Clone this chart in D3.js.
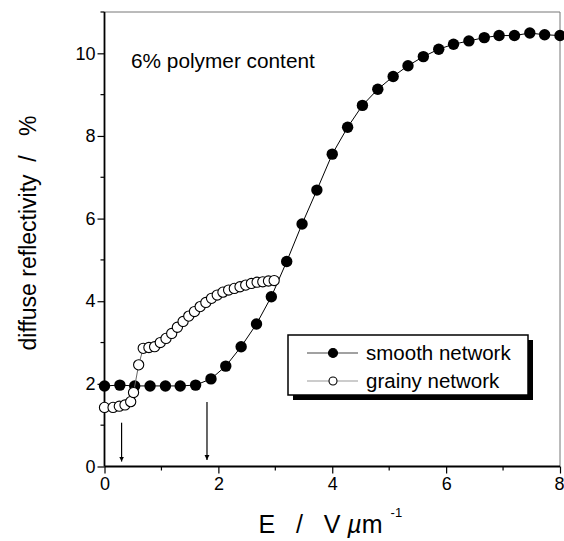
<!DOCTYPE html>
<html>
<head>
<meta charset="utf-8">
<script src="https://cdn.jsdelivr.net/npm/d3@7"></script>
<style>
  body { margin: 0; background: #fff; }
  svg { display: block; font-family: "Liberation Sans", Arial, sans-serif; }
</style>
</head>
<body>
<div id="chart"></div>
<script>
'use strict';

let width = 564;
let height = 541;
let margin = { top: 12, bottom: 74.5, left: 104.5, right: 4 };

// smooth network (filled circles)
const smoothE = [0, 0.27, 0.53, 0.8, 1.07, 1.33, 1.6, 1.87, 2.13, 2.4, 2.67, 2.93, 3.2, 3.47, 3.73, 4.0,
    4.27, 4.53, 4.8, 5.07, 5.33, 5.6, 5.87, 6.13, 6.4, 6.67, 6.93, 7.2, 7.47, 7.73, 8.0];
const smoothR = [1.95, 1.97, 1.95, 1.95, 1.95, 1.95, 1.97, 2.12, 2.43, 2.9, 3.45, 4.11, 4.96, 5.87, 6.69, 7.56,
    8.21, 8.74, 9.13, 9.44, 9.7, 9.92, 10.1, 10.22, 10.3, 10.38, 10.43, 10.43, 10.49, 10.45, 10.43];

// grainy network (open circles)
const grainyE = [0, 0.15, 0.26, 0.36, 0.46, 0.51, 0.6, 0.68, 0.78, 0.88, 0.98, 1.08, 1.18, 1.28, 1.38, 1.48,
    1.58, 1.68, 1.78, 1.88, 1.98, 2.08, 2.18, 2.28, 2.38, 2.48, 2.58, 2.68, 2.78, 2.88, 2.98];
const grainyR = [1.43, 1.43, 1.46, 1.49, 1.57, 1.79, 2.46, 2.86, 2.88, 2.9, 3.0, 3.1, 3.22, 3.37, 3.51, 3.64,
    3.75, 3.87, 3.97, 4.07, 4.15, 4.22, 4.27, 4.31, 4.35, 4.39, 4.43, 4.46, 4.47, 4.49, 4.5];

// arrows: E position, start and end of the shaft in %
const arrowE = [0.3, 1.8];
const arrowFrom = [1.06, 1.56];
const arrowTo = [0.12, 0.16];

const xTicks = [0, 2, 4, 6, 8];
const xMinor = [1, 3, 5, 7];
const yTicks = [0, 2, 4, 6, 8, 10];
const yMinor = [1, 3, 5, 7, 9, 11];

const legendLabels = ["smooth network", "grainy network"];

const smooth = smoothE.map((e, i) => ({ e: e, r: smoothR[i] }));
const grainy = grainyE.map((e, i) => ({ e: e, r: grainyR[i] }));

const svg = d3.select("#chart")
    .append("svg")
    .attr("width", width)
    .attr("height", height);

const x = d3.scaleLinear().domain([0, 8]).range([margin.left, width - margin.right]);
const y = d3.scaleLinear().domain([0, 11]).range([height - margin.bottom, margin.top]);

// frame (top / right)
svg.append("path")
    .attr("d", `M${x(0)},${y(11)}H${x(8)}V${y(0)}`)
    .attr("fill", "none")
    .attr("stroke", "#777")
    .attr("stroke-width", 1);

// axes
const xAxis = svg.append("g")
    .attr("transform", `translate(0,${y(0)})`)
    .call(d3.axisBottom(x).tickValues(xTicks).tickSize(7).tickPadding(4).tickFormat(d3.format("d")));
svg.append("g")
    .attr("transform", `translate(0,${y(0)})`)
    .selectAll("line").data(xMinor).join("line")
    .attr("x1", d => x(d)).attr("x2", d => x(d)).attr("y1", 0).attr("y2", 4)
    .attr("stroke", "#000").attr("stroke-width", 1.2);

const yAxis = svg.append("g")
    .attr("transform", `translate(${x(0)},0)`)
    .call(d3.axisLeft(y).tickValues(yTicks).tickSize(7).tickPadding(2).tickFormat(d3.format("d")));
svg.append("g")
    .attr("transform", `translate(${x(0)},0)`)
    .selectAll("line").data(yMinor).join("line")
    .attr("x1", 0).attr("x2", -4).attr("y1", d => y(d)).attr("y2", d => y(d))
    .attr("stroke", "#000").attr("stroke-width", 1.2);

[xAxis, yAxis].forEach(g => {
    g.select(".domain").attr("stroke-width", 1.8).attr("stroke", "#000");
    g.selectAll(".tick line").attr("stroke-width", 1.2);
    g.selectAll(".tick text")
        .attr("font-family", "Liberation Sans, Arial, sans-serif")
        .attr("font-size", 18)
        .attr("fill", "#000");
});
yAxis.select(".domain").attr("d", `M0,${y(11)}V${y(0)}`);
xAxis.select(".domain").attr("d", `M${x(0)},0H${x(8)}`);
// last label sits against the right edge
xAxis.selectAll(".tick text").filter(d => d === 8)
    .attr("text-anchor", "end")
    .attr("dx", 4);

// axis titles
svg.append("text")
    .attr("transform", `translate(36,${y(5.65)}) rotate(-90)`)
    .attr("text-anchor", "middle")
    .attr("font-size", 23)
    .style("white-space", "pre")
    .text("diffuse reflectivity  /   %");

const xt = svg.append("text")
    .attr("x", x(4) - 2)
    .attr("y", 533)
    .attr("text-anchor", "middle")
    .attr("font-size", 25)
    .style("white-space", "pre");
xt.append("tspan").text("E   /   V ");
xt.append("tspan").attr("font-style", "italic").text("µ");
xt.append("tspan").text("m");
xt.append("tspan").attr("dx", 8).attr("dy", -16).attr("font-size", 13).text("-1");

// annotation
svg.append("text")
    .attr("x", 131)
    .attr("y", 68)
    .attr("font-size", 20.8)
    .text("6% polymer content");

// arrows
svg.append("defs").append("marker")
    .attr("id", "head")
    .attr("viewBox", "0 0 10 10")
    .attr("refX", 10).attr("refY", 5)
    .attr("markerWidth", 5).attr("markerHeight", 8)
    .attr("markerUnits", "userSpaceOnUse")
    .attr("orient", "auto")
    .append("path").attr("d", "M0,0L10,5L0,10Z").attr("fill", "#000");

svg.selectAll(".arrow")
    .data(arrowE)
    .join("line")
    .attr("class", "arrow")
    .attr("x1", d => x(d)).attr("x2", d => x(d))
    .attr("y1", (d, i) => y(arrowFrom[i]))
    .attr("y2", (d, i) => y(arrowTo[i]))
    .attr("stroke", "#000")
    .attr("stroke-width", 1.2)
    .attr("marker-end", "url(#head)");

const line = d3.line().x(d => x(d.e)).y(d => y(d.r));

// smooth network
svg.append("path")
    .datum(smooth)
    .attr("d", line)
    .attr("fill", "none")
    .attr("stroke", "#000")
    .attr("stroke-width", 1);
svg.selectAll(".smooth")
    .data(smooth)
    .join("circle")
    .attr("class", "smooth")
    .attr("cx", d => x(d.e))
    .attr("cy", d => y(d.r))
    .attr("r", 5.7)
    .attr("fill", "#000");

// grainy network
svg.append("path")
    .datum(grainy)
    .attr("d", line)
    .attr("fill", "none")
    .attr("stroke", "#666")
    .attr("stroke-width", 1);
svg.selectAll(".grainy")
    .data(grainy)
    .join("circle")
    .attr("class", "grainy")
    .attr("cx", d => x(d.e))
    .attr("cy", d => y(d.r))
    .attr("r", 5.1)
    .attr("fill", "#fff")
    .attr("stroke", "#000")
    .attr("stroke-width", 1.1);

// legend
const legend = svg.append("g").attr("transform", "translate(288,335)");
legend.append("rect")
    .attr("x", 5).attr("y", 5).attr("width", 240).attr("height", 60)
    .attr("fill", "#000");
legend.append("rect")
    .attr("width", 240).attr("height", 60)
    .attr("fill", "#fff")
    .attr("stroke", "#000")
    .attr("stroke-width", 1.5);

const rows = legend.selectAll(".row")
    .data(legendLabels)
    .join("g")
    .attr("class", "row")
    .attr("transform", (d, i) => `translate(0,${18 + i * 28})`);
rows.append("line")
    .attr("x1", 19).attr("x2", 70).attr("y1", 0).attr("y2", 0)
    .attr("stroke", (d, i) => i === 0 ? "#444" : "#999")
    .attr("stroke-width", 1.2);
rows.append("circle")
    .attr("cx", 45).attr("cy", 0)
    .attr("r", (d, i) => i === 0 ? 4.5 : 4)
    .attr("fill", (d, i) => i === 0 ? "#000" : "#fff")
    .attr("stroke", "#000")
    .attr("stroke-width", 1.1);
rows.append("text")
    .attr("x", 78)
    .attr("y", 7)
    .attr("font-size", 20.5)
    .text(d => d);
</script>
</body>
</html>
